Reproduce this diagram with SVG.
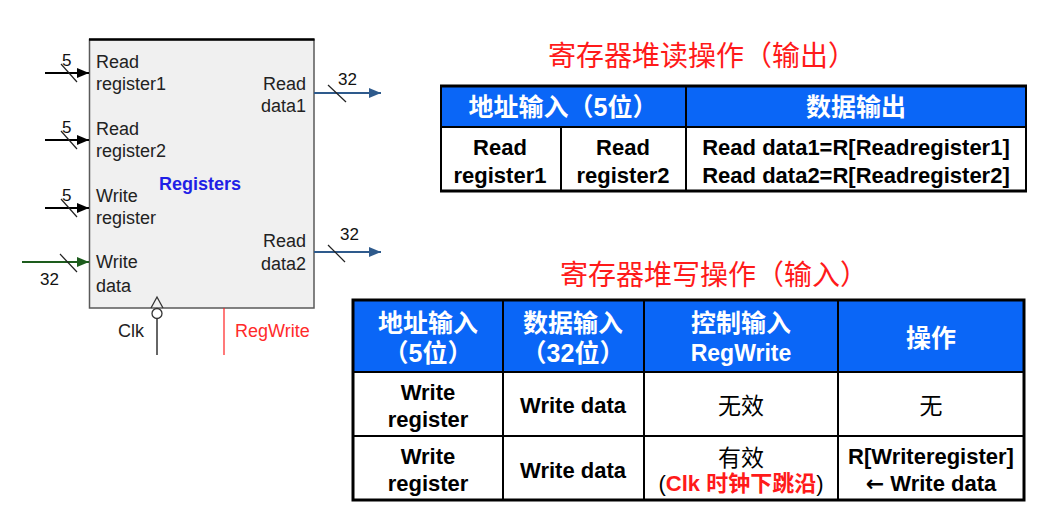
<svg xmlns="http://www.w3.org/2000/svg" width="1047" height="520" viewBox="0 0 1047 520">
  <style>
    .lbl { font-family: "Liberation Sans", Arial, sans-serif; font-size: 18px; fill: #222; }
    .num { font-family: "Liberation Sans", Arial, sans-serif; font-size: 17px; fill: #111; }
    .title { font-family: "Noto Sans CJK SC", sans-serif; font-size: 28px; fill: #ff1a1a; text-anchor: middle; }
    .th { font-family: "Liberation Sans", "Noto Sans CJK SC", sans-serif; font-size: 25px; font-weight: bold; fill: #fff; text-anchor: middle; }
    .thl { font-family: "Liberation Sans", sans-serif; font-size: 23px; font-weight: bold; fill: #fff; text-anchor: middle; }
    .td { font-family: "Liberation Sans", "Noto Sans CJK SC", sans-serif; font-size: 22px; font-weight: bold; fill: #000; text-anchor: middle; }
    .tdn { font-family: "Noto Sans CJK SC", sans-serif; font-size: 23px; fill: #000; text-anchor: middle; }
    .hdr { fill: #0a66f7; }
    .grid { stroke: #000; stroke-width: 2; fill: none; }
    .edge { stroke: #000; stroke-width: 3; fill: none; }
    .slash { stroke: #222; stroke-width: 1.2; }
  </style>
  <defs>
    <marker id="ah-black" markerWidth="12" markerHeight="10" refX="12" refY="5" orient="auto" markerUnits="userSpaceOnUse">
      <path d="M0,0 L12,5 L0,10 Z" fill="#000"/>
    </marker>
    <marker id="ah-green" markerWidth="12" markerHeight="10" refX="12" refY="5" orient="auto" markerUnits="userSpaceOnUse">
      <path d="M0,0 L12,5 L0,10 Z" fill="#1d5c1d"/>
    </marker>
    <marker id="ah-blue" markerWidth="12" markerHeight="10" refX="12" refY="5" orient="auto" markerUnits="userSpaceOnUse">
      <path d="M0,0 L12,5 L0,10 Z" fill="#2e5a8c"/>
    </marker>
  </defs>

  <rect width="1047" height="520" fill="#fff"/>

  <!-- register file block -->
  <g id="registers">
    <rect x="89.5" y="39.5" width="224.5" height="268.5" fill="#f0f0f0" stroke="#5a5a5a" stroke-width="1.5"/>
    <line x1="89" y1="39.5" x2="314.5" y2="39.5" stroke="#000" stroke-width="2.5"/>
    <text class="lbl" x="96" y="68">Read</text>
    <text class="lbl" x="96" y="90">register1</text>
    <text class="lbl" x="96" y="135">Read</text>
    <text class="lbl" x="96" y="157">register2</text>
    <text class="lbl" x="96" y="202">Write</text>
    <text class="lbl" x="96" y="224">register</text>
    <text class="lbl" x="96" y="268">Write</text>
    <text class="lbl" x="96" y="292">data</text>
    <text class="lbl" x="306" y="90" text-anchor="end">Read</text>
    <text class="lbl" x="306" y="112" text-anchor="end">data1</text>
    <text class="lbl" x="306" y="247" text-anchor="end">Read</text>
    <text class="lbl" x="306" y="270" text-anchor="end">data2</text>
    <text x="159" y="190" font-family="Liberation Sans, Arial, sans-serif" font-size="18" font-weight="bold" fill="#1f1fe6">Registers</text>
    <!-- clock input: edge triangle with inversion bubble -->
    <path d="M151,308 L157,297 L163,308" fill="none" stroke="#333" stroke-width="1.3"/>
    <circle cx="157" cy="313.5" r="5" fill="#fff" stroke="#333" stroke-width="1.3"/>
  </g>

  <!-- connectors -->
  <g id="connectors">
    <line x1="45" y1="73" x2="89" y2="73" stroke="#000" stroke-width="2" marker-end="url(#ah-black)"/>
    <line class="slash" x1="61" y1="64" x2="77" y2="82"/>
    <text class="num" x="62" y="66">5</text>

    <line x1="45" y1="140" x2="89" y2="140" stroke="#000" stroke-width="2" marker-end="url(#ah-black)"/>
    <line class="slash" x1="61" y1="131" x2="77" y2="149"/>
    <text class="num" x="62" y="133">5</text>

    <line x1="45" y1="208" x2="89" y2="208" stroke="#000" stroke-width="2" marker-end="url(#ah-black)"/>
    <line class="slash" x1="61" y1="199" x2="77" y2="217"/>
    <text class="num" x="62" y="201">5</text>

    <line x1="22" y1="262" x2="89" y2="262" stroke="#1d5c1d" stroke-width="2" marker-end="url(#ah-green)"/>
    <line class="slash" x1="60" y1="254" x2="77" y2="272"/>
    <text class="num" x="40" y="285">32</text>

    <line x1="314" y1="93" x2="381" y2="93" stroke="#2e5a8c" stroke-width="2" marker-end="url(#ah-blue)"/>
    <line class="slash" x1="328" y1="85" x2="346" y2="102"/>
    <text class="num" x="338" y="85">32</text>

    <line x1="314" y1="252" x2="381" y2="252" stroke="#2e5a8c" stroke-width="2" marker-end="url(#ah-blue)"/>
    <line class="slash" x1="328" y1="245" x2="345" y2="262"/>
    <text class="num" x="340" y="240">32</text>

    <line x1="157" y1="318.5" x2="157" y2="355" stroke="#333" stroke-width="1.5"/>
    <text class="lbl" x="118" y="337">Clk</text>
    <line x1="224" y1="308" x2="224" y2="355" stroke="#ff2020" stroke-width="1.2"/>
    <text class="lbl" x="235" y="337" style="fill:#ff2a2a">RegWrite</text>
  </g>

  <!-- read operation table -->
  <g id="read-table">
    <text class="title" x="702" y="66">寄存器堆读操作（输出）</text>
    <rect class="hdr" x="440" y="86" width="587" height="41"/>
    <line class="edge" x1="440" y1="86" x2="1027" y2="86"/>
    <line class="grid" x1="440" y1="127" x2="1027" y2="127"/>
    <line class="edge" x1="440" y1="191" x2="1027" y2="191"/>
    <line class="grid" x1="441" y1="86" x2="441" y2="192"/>
    <line class="grid" x1="1026" y1="86" x2="1026" y2="192"/>
    <line class="grid" x1="686" y1="86" x2="686" y2="192"/>
    <line class="grid" x1="561" y1="127" x2="561" y2="192"/>
    <text class="th" x="563" y="116">地址输入（5位）</text>
    <text class="th" x="856" y="116">数据输出</text>
    <text class="td" x="500" y="155">Read</text>
    <text class="td" x="500" y="183">register1</text>
    <text class="td" x="623" y="155">Read</text>
    <text class="td" x="623" y="183">register2</text>
    <text class="td" x="856" y="155">Read data1=R[Readregister1]</text>
    <text class="td" x="856" y="183">Read data2=R[Readregister2]</text>
  </g>

  <!-- write operation table -->
  <g id="write-table">
    <text class="title" x="714" y="285">寄存器堆写操作（输入）</text>
    <rect class="hdr" x="353" y="300" width="671" height="72"/>
    <rect class="edge" x="353" y="300" width="671" height="200"/>
    <line class="grid" x1="353" y1="372" x2="1024" y2="372"/>
    <line class="grid" x1="353" y1="436" x2="1024" y2="436"/>
    <line class="grid" x1="503" y1="300" x2="503" y2="500"/>
    <line class="grid" x1="644" y1="300" x2="644" y2="500"/>
    <line class="grid" x1="838" y1="300" x2="838" y2="500"/>

    <text class="th" x="428" y="332">地址输入</text>
    <text class="th" x="428" y="362">（5位）</text>
    <text class="th" x="573" y="332">数据输入</text>
    <text class="th" x="573" y="362">（32位）</text>
    <text class="th" x="741" y="332">控制输入</text>
    <text class="thl" x="741" y="361">RegWrite</text>
    <text class="th" x="931" y="347">操作</text>

    <text class="td" x="428" y="400">Write</text>
    <text class="td" x="428" y="427">register</text>
    <text class="td" x="573" y="413">Write data</text>
    <text class="tdn" x="741" y="414">无效</text>
    <text class="tdn" x="931" y="414">无</text>

    <text class="td" x="428" y="464">Write</text>
    <text class="td" x="428" y="491">register</text>
    <text class="td" x="573" y="478">Write data</text>
    <text class="tdn" x="741" y="466">有效</text>
    <text class="td" x="741" y="491"><tspan font-weight="normal">(</tspan><tspan fill="#ff1a1a">Clk 时钟下跳沿</tspan><tspan font-weight="normal">)</tspan></text>
    <text class="td" x="931" y="464">R[Writeregister]</text>
    <text class="td" x="931" y="491"><tspan font-family="DejaVu Sans, sans-serif">←</tspan> Write data</text>
  </g>
</svg>
